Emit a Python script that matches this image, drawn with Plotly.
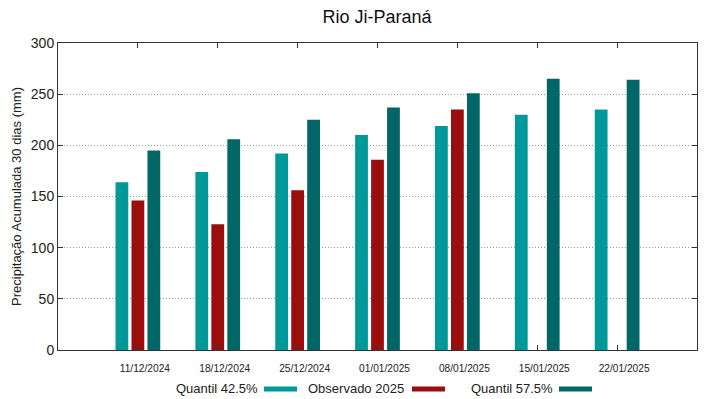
import plotly.graph_objects as go

dates = ["11/12/2024", "18/12/2024", "25/12/2024", "01/01/2025", "08/01/2025", "15/01/2025", "22/01/2025"]
q425 = [164, 174, 192, 210, 219, 230, 235]
obs2025 = [146, 123, 156, 186, 235, None, None]
q575 = [195, 206, 225, 237, 251, 265, 264]

series_names = ["Quantil 42.5%", "Observado 2025", "Quantil 57.5%"]
colors = ["#009999", "#9A0E0E", "#006666"]
yticks = [0, 50, 100, 150, 200, 250, 300]

FONT = "Liberation Sans, Arial, sans-serif"

# page has an 8px body margin; compensate so plot area sits at page pixels 58..697 x 43..350
OFF = 8
W, H = 719 - OFF, 399 - OFF
pl, pr, pt, pb = 58, 697, 43, 350

fig = go.Figure()
for name, vals, col in zip(series_names, [q425, obs2025, q575], colors):
    fig.add_trace(go.Bar(x=dates, y=vals, name=name, marker_color=col,
                         marker_line_width=0, showlegend=False))

fig.update_layout(
    width=W, height=H,
    margin=dict(l=pl - OFF, r=719 - pr, t=pt - OFF, b=399 - pb),
    paper_bgcolor="white", plot_bgcolor="white",
    barmode="group", bargap=0.4, bargroupgap=0.2,
    title=dict(text="Rio Ji-Paraná", x=(377 - OFF) / W, xanchor="center",
               y=1 - (17 - OFF) / H, yanchor="middle", automargin=False,
               font=dict(family=FONT, size=18, color="#111")),
    font=dict(family=FONT, color="#222"),
)
fig.update_xaxes(type="category", range=[-1, 7], showline=True, linecolor="#333", linewidth=1,
                 mirror="ticks", ticks="inside", ticklen=5, tickcolor="#333",
                 tickfont=dict(size=10.2, family=FONT, color="#222"), showgrid=False,
                 automargin=False, ticklabelstandoff=9, ticklabelshift=7)
fig.update_yaxes(range=[0, 300], tickvals=yticks, showline=True, linecolor="#333", linewidth=1,
                 mirror="ticks", ticks="inside", ticklen=5, tickcolor="#333",
                 tickfont=dict(size=14, family=FONT, color="#222"),
                 showgrid=True, gridcolor="#999", griddash="1px,2px", gridwidth=1,
                 zeroline=False, automargin=False,
                 title=dict(text="Precipitação Acumulada 30 dias (mm)", font=dict(size=13, family=FONT, color="#222"), standoff=6))

# custom legend (text followed by swatch) below the plot
leg_text_right = [257, 403, 552]
leg_sw = [(264, 297), (412, 445), (559, 592)]
def px(xp):
    return (xp - pl) / (pr - pl)
def py(yp):
    return (pb - yp) / (pb - pt)
for name, col, tr, (s0, s1) in zip(series_names, colors, leg_text_right, leg_sw):
    fig.add_annotation(x=px(tr + 3), y=py(388), xref="paper", yref="paper", text=name,
                       showarrow=False, xanchor="right", yanchor="middle",
                       font=dict(size=13, family=FONT, color="#222"))
    fig.add_shape(type="rect", xref="paper", yref="paper", x0=px(s0), x1=px(s1),
                  y0=py(391.5), y1=py(386.5), fillcolor=col, line_width=0)

fig.write_html("out.html")
